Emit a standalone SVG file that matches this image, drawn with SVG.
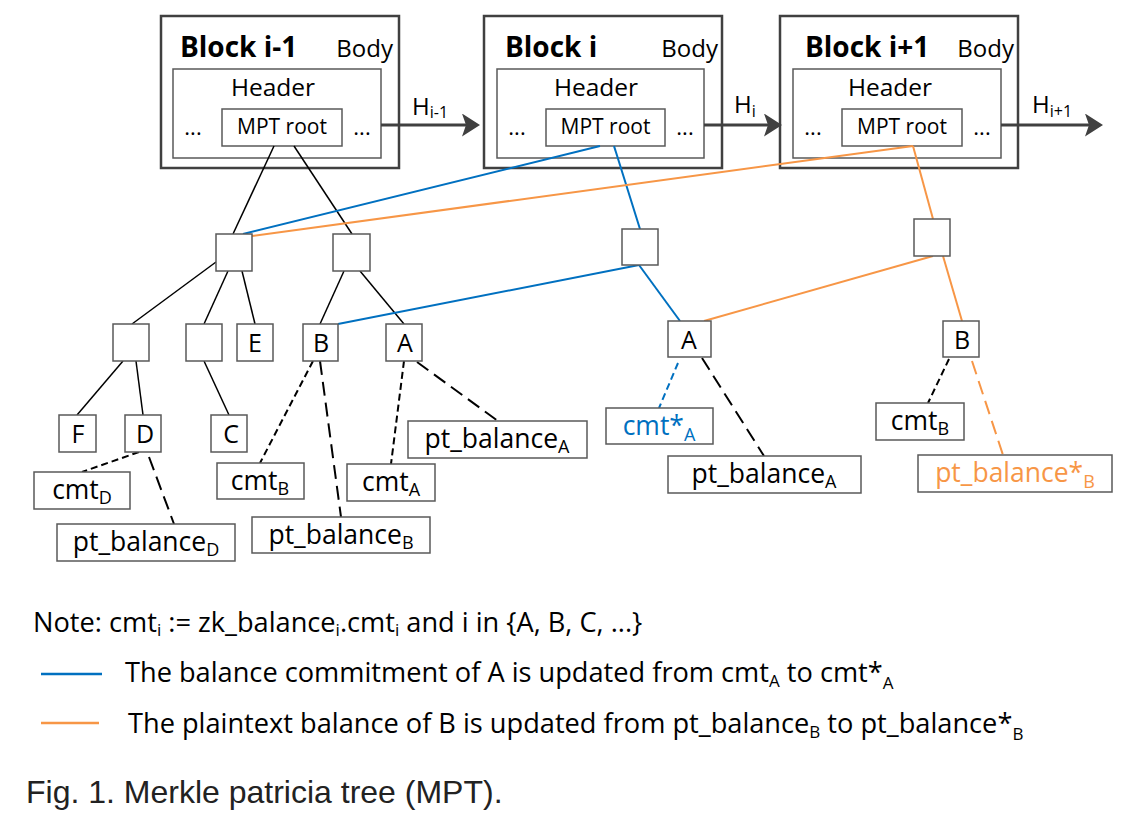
<svg xmlns="http://www.w3.org/2000/svg" width="1146" height="821" viewBox="0 0 1146 821">
<style>
text{font-family:"Open Sans","Noto Sans","DejaVu Sans",sans-serif;fill:#000}
.blk{fill:#fff;stroke:#404040;stroke-width:2.5}
.hdr{fill:#fff;stroke:#595959;stroke-width:1.5}
.bx{fill:#fff;stroke:#595959;stroke-width:1.5}
.title{font-size:28px;font-weight:bold}
.body{font-size:24px;text-anchor:end}
.header{font-size:24.5px;text-anchor:middle}
.dots{font-size:22px;text-anchor:middle}
.mpt{font-size:21px;text-anchor:middle}
.lbl{font-size:25px;text-anchor:middle}
.data{font-size:26.5px;text-anchor:middle}
.sub{font-size:18px}
.nsub{font-size:17px}
.note{font-size:27.2px}
.hl{font-size:24px}
.k{stroke:#000;stroke-width:1.5;fill:none}
.bl{stroke:#0070C0;stroke-width:2;fill:none}
.or{stroke:#F79646;stroke-width:2;fill:none}
.ds{stroke-dasharray:7,4;stroke-width:2}
.dl{stroke-dasharray:14,7;stroke-width:2}
.arr{stroke:#404040;stroke-width:3;fill:none}
</style>
<defs>
<marker id="ah" viewBox="0 0 18 23" markerWidth="18" markerHeight="23" refX="14" refY="11.5" orient="auto" markerUnits="userSpaceOnUse">
<path d="M0,0 L18,11.5 L0,23 L4,11.5 z" fill="#404040"/>
</marker>
</defs>

<g id="block-i-1">
<rect class="blk" x="161" y="16" width="238" height="152"/>
<text class="title" x="180" y="57">Block i-1</text>
<text class="body" x="393" y="57">Body</text>
<rect class="hdr" x="173" y="69" width="208" height="89"/>
<text class="header" x="273" y="96">Header</text>
<text class="dots" x="193" y="135">...</text>
<text class="dots" x="362" y="135">...</text>
<rect class="hdr" x="222" y="109" width="120" height="37"/>
<text class="mpt" x="282" y="134">MPT root</text>
</g>
<g id="block-i">
<rect class="blk" x="484" y="16" width="238" height="152"/>
<text class="title" x="505" y="57">Block i</text>
<text class="body" x="718" y="57">Body</text>
<rect class="hdr" x="497" y="69" width="207" height="89"/>
<text class="header" x="596" y="96">Header</text>
<text class="dots" x="517" y="135">...</text>
<text class="dots" x="685" y="135">...</text>
<rect class="hdr" x="546" y="109" width="119" height="37"/>
<text class="mpt" x="605.5" y="134">MPT root</text>
</g>
<g id="block-i1">
<rect class="blk" x="780" y="16" width="238" height="152"/>
<text class="title" x="805" y="57">Block i+1</text>
<text class="body" x="1014" y="57">Body</text>
<rect class="hdr" x="793" y="69" width="208" height="89"/>
<text class="header" x="890" y="96">Header</text>
<text class="dots" x="813" y="135">...</text>
<text class="dots" x="982" y="135">...</text>
<rect class="hdr" x="842" y="109" width="120" height="37"/>
<text class="mpt" x="902" y="134">MPT root</text>
</g>

<g id="connectors">
<line class="arr" x1="381" y1="125" x2="476" y2="125" marker-end="url(#ah)"/>
<line class="arr" x1="704" y1="125" x2="778" y2="125" marker-end="url(#ah)"/>
<line class="arr" x1="1001" y1="125" x2="1099" y2="125" marker-end="url(#ah)"/>
<line class="k" x1="274" y1="146" x2="233" y2="234"/>
<line class="k" x1="294" y1="146" x2="352" y2="234"/>
<line class="k" x1="216" y1="262" x2="132" y2="324"/>
<line class="k" x1="228" y1="271" x2="204" y2="324"/>
<line class="k" x1="242" y1="271" x2="255" y2="324"/>
<line class="k" x1="344" y1="271" x2="320" y2="324"/>
<line class="k" x1="360" y1="271" x2="404" y2="324"/>
<line class="k" x1="123" y1="361" x2="77" y2="415"/>
<line class="k" x1="136" y1="361" x2="143" y2="415"/>
<line class="k" x1="204" y1="361" x2="229" y2="415"/>
<line class="bl" x1="600" y1="146" x2="243" y2="234"/>
<line class="bl" x1="614" y1="146" x2="640" y2="229"/>
<line class="bl" x1="639" y1="265" x2="338" y2="324"/>
<line class="bl" x1="639" y1="265" x2="680" y2="321"/>
<line class="or" x1="913" y1="146" x2="252" y2="236"/>
<line class="or" x1="913" y1="146" x2="933" y2="219"/>
<line class="or" x1="933" y1="256" x2="704" y2="321"/>
<line class="or" x1="943" y1="256" x2="962" y2="321"/>
<line class="k ds" x1="139" y1="452" x2="82" y2="472"/>
<line class="k ds" x1="313" y1="361" x2="260" y2="463"/>
<line class="k ds" x1="404" y1="361" x2="391" y2="464"/>
<line class="k ds" x1="949" y1="359" x2="928" y2="403"/>
<line class="bl ds" x1="678" y1="363" x2="659" y2="408"/>
<line class="k dl" x1="149" y1="457" x2="174" y2="524"/>
<line class="k dl" x1="320" y1="361" x2="341" y2="517"/>
<line class="k dl" x1="417" y1="362" x2="498" y2="421"/>
<line class="k dl" x1="702" y1="358" x2="764" y2="456"/>
<line class="or dl" x1="972" y1="361" x2="1003" y2="455"/>
</g>

<g id="hash-labels">
<text class="hl" x="412" y="115">H<tspan font-size="16" dy="3">i-1</tspan></text>
<text class="hl" x="734" y="113">H<tspan font-size="16" dy="4">i</tspan></text>
<text class="hl" x="1032" y="113">H<tspan font-size="16" dy="4">i+1</tspan></text>
</g>

<g id="n1"><rect class="bx" x="216" y="234" width="36" height="37"/></g>
<g id="n2"><rect class="bx" x="333" y="234" width="37" height="37"/></g>
<g id="n3"><rect class="bx" x="622" y="229" width="36" height="36"/></g>
<g id="n4"><rect class="bx" x="914" y="219" width="36" height="37"/></g>
<g id="l1"><rect class="bx" x="113" y="324" width="36" height="37"/></g>
<g id="l2"><rect class="bx" x="186" y="324" width="36" height="37"/></g>
<g id="nodeE"><rect class="bx" x="237" y="324" width="36" height="37"/><text class="lbl" x="255" y="352">E</text></g>
<g id="nodeB1"><rect class="bx" x="303" y="324" width="35" height="37"/><text class="lbl" x="321" y="352">B</text></g>
<g id="nodeA1"><rect class="bx" x="386" y="324" width="36" height="37"/><text class="lbl" x="405" y="352">A</text></g>
<g id="nodeA2"><rect class="bx" x="668" y="321" width="43" height="36"/><text class="lbl" x="689" y="349">A</text></g>
<g id="nodeB2"><rect class="bx" x="943" y="321" width="36" height="36"/><text class="lbl" x="962" y="349">B</text></g>
<g id="nodeF"><rect class="bx" x="59" y="415" width="37" height="37"/><text class="lbl" x="78" y="443">F</text></g>
<g id="nodeD"><rect class="bx" x="125" y="415" width="36" height="37"/><text class="lbl" x="145" y="443">D</text></g>
<g id="nodeC"><rect class="bx" x="211" y="415" width="36" height="37"/><text class="lbl" x="231" y="443">C</text></g>

<g id="cmtD"><rect class="bx" x="34" y="472" width="96" height="37"/><text class="data" x="82" y="499">cmt<tspan class="sub" dy="5">D</tspan></text></g>
<g id="ptD"><rect class="bx" x="57" y="524" width="178" height="37"/><text class="data" x="146" y="551">pt_balance<tspan class="sub" dy="5">D</tspan></text></g>
<g id="cmtB1"><rect class="bx" x="217" y="463" width="87" height="36"/><text class="data" x="260" y="490">cmt<tspan class="sub" dy="5">B</tspan></text></g>
<g id="ptB1"><rect class="bx" x="252" y="517" width="178" height="36"/><text class="data" x="341" y="544">pt_balance<tspan class="sub" dy="5">B</tspan></text></g>
<g id="cmtA1"><rect class="bx" x="347" y="464" width="88" height="37"/><text class="data" x="391" y="491">cmt<tspan class="sub" dy="5">A</tspan></text></g>
<g id="ptA1"><rect class="bx" x="408" y="421" width="179" height="37"/><text class="data" x="497" y="448">pt_balance<tspan class="sub" dy="5">A</tspan></text></g>
<g id="cmtA2"><rect class="bx" x="606" y="408" width="107" height="36"/><text class="data" x="659" y="435" style="fill:#0070C0">cmt*<tspan class="sub" dy="6">A</tspan></text></g>
<g id="ptA2"><rect class="bx" x="668" y="456" width="193" height="37"/><text class="data" x="764" y="483">pt_balance<tspan class="sub" dy="5">A</tspan></text></g>
<g id="cmtB2"><rect class="bx" x="876" y="403" width="88" height="37"/><text class="data" x="920" y="430">cmt<tspan class="sub" dy="5">B</tspan></text></g>
<g id="ptB2"><rect class="bx" x="918" y="455" width="194" height="37"/><text class="data" x="1015" y="482" style="fill:#F79646">pt_balance*<tspan class="sub" dy="6">B</tspan></text></g>

<g id="legend">
<text class="note" x="33" y="632">Note: cmt<tspan class="nsub" dy="4">i</tspan><tspan dy="-4"> := zk_balance</tspan><tspan class="nsub" dy="4">i</tspan><tspan dy="-4">.cmt</tspan><tspan class="nsub" dy="4">i</tspan><tspan dy="-4"> and i in {A, B, C, ...}</tspan></text>
<line x1="41" y1="674" x2="102" y2="674" stroke="#0070C0" stroke-width="2.5"/>
<text class="note" x="125" y="682">The balance commitment of A is updated from cmt<tspan class="nsub" dy="5">A</tspan><tspan dy="-5"> to cmt*</tspan><tspan class="nsub" dy="7">A</tspan></text>
<line x1="41" y1="723" x2="99" y2="723" stroke="#F79646" stroke-width="2.5"/>
<text class="note" x="128" y="733">The plaintext balance of B is updated from pt_balance<tspan class="nsub" dy="5">B</tspan><tspan dy="-5"> to pt_balance*</tspan><tspan class="nsub" dy="7">B</tspan></text>
<text x="26" y="803" style="font-family:'Liberation Sans',Arial,sans-serif;font-size:32px;fill:#222">Fig. 1. Merkle patricia tree (MPT).</text>
</g>
</svg>
